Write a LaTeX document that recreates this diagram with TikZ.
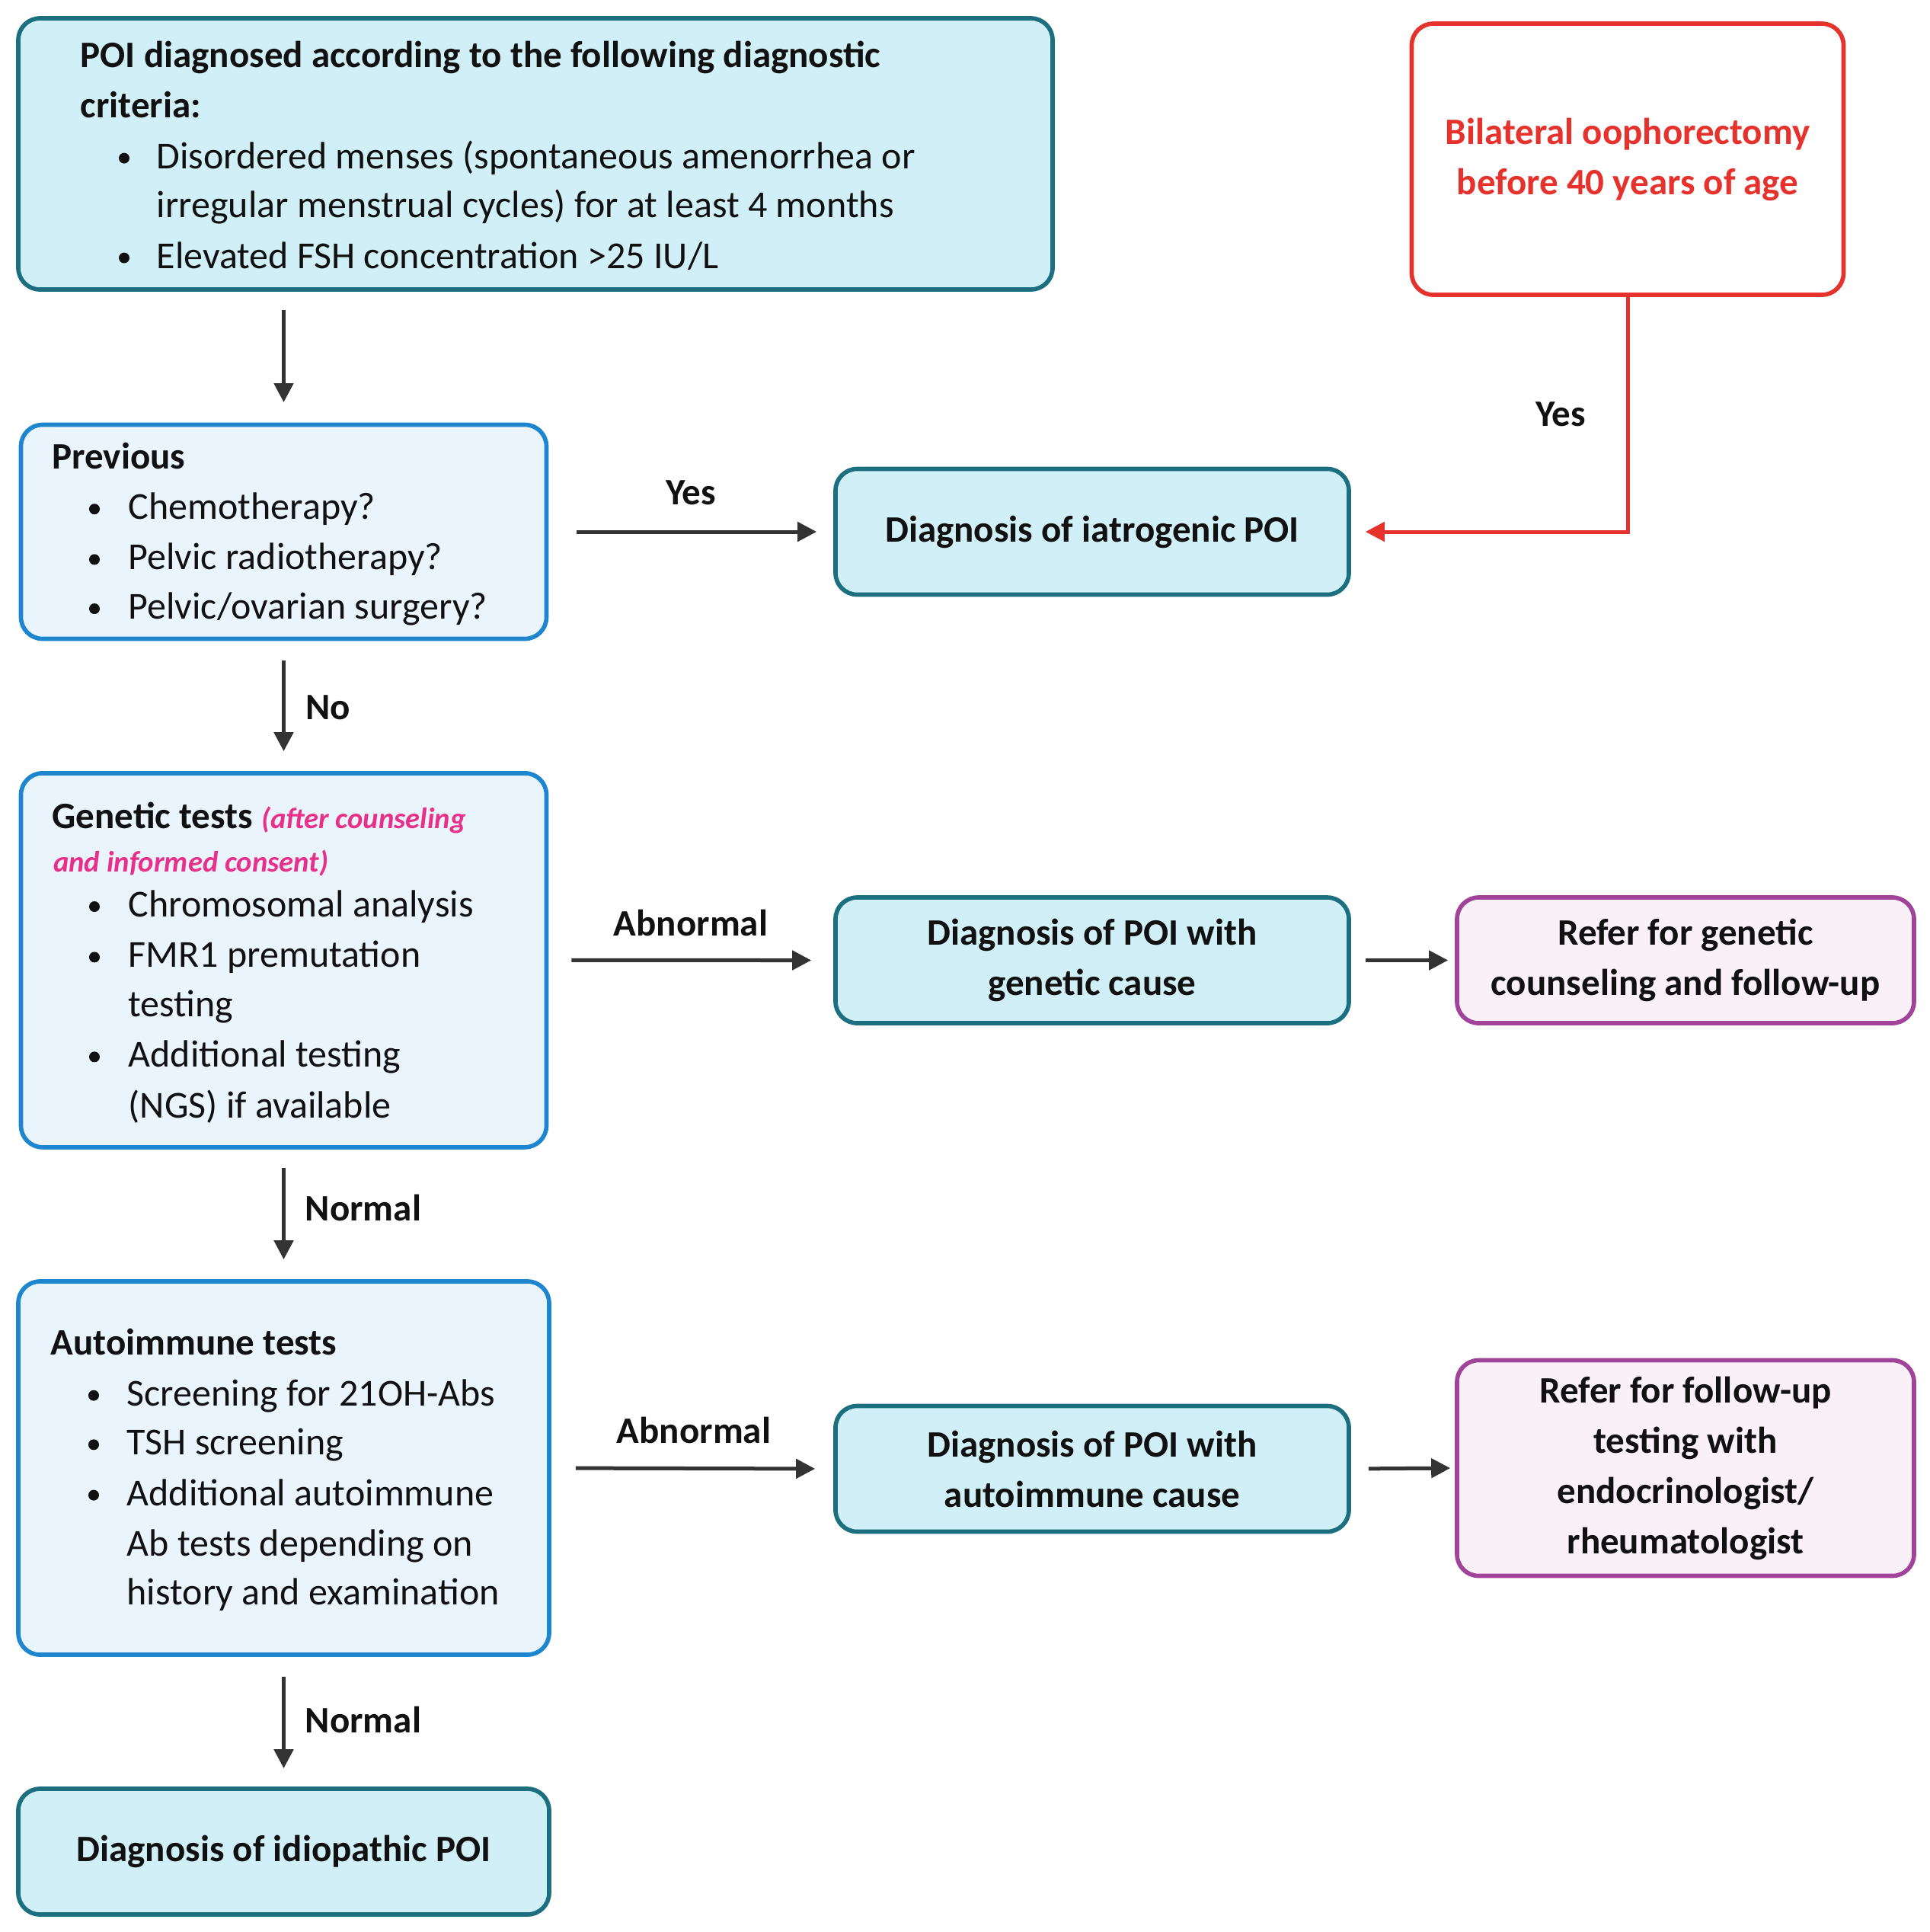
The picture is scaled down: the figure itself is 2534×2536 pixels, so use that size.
\documentclass[tikz,border=0pt]{standalone}
\usepackage{fontspec}
\setmainfont{Carlito}
\usetikzlibrary{arrows.meta}
\definecolor{cyanfill}{HTML}{D0EFF6}
\definecolor{tealline}{HTML}{1C6F7E}
\definecolor{bluefill}{HTML}{EAF4FC}
\definecolor{blueline}{HTML}{1D86CF}
\definecolor{pinkfill}{HTML}{F9F1F7}
\definecolor{purpleline}{HTML}{A04499}
\definecolor{redline}{HTML}{E5322D}
\definecolor{pinktext}{HTML}{E8308A}
\definecolor{arrowgray}{HTML}{333333}
\definecolor{ink}{HTML}{111111}
\newcommand\fsz{\fontsize{15}{19.8}\selectfont}
\newcommand\bsz{\fontsize{14.7}{19.8}\selectfont}
\newcommand\psz{\fontsize{11.6}{15}\selectfont}
\begin{document}
\begin{tikzpicture}[x=0.3pt,y=-0.3pt,
  box/.style={rectangle, rounded corners=8.5pt, line width=1.7pt, inner sep=0pt, align=center, text=ink,
    font=\bfseries\bsz},
  cbox/.style={box, draw=tealline, fill=cyanfill},
  bbox/.style={box, draw=blueline, fill=bluefill},
  pbox/.style={box, draw=purpleline, fill=pinkfill},
  rbox/.style={box, draw=redline, fill=white, text=redline},
  txt/.style={inner sep=0pt, anchor=base west, text=ink, font=\fsz},
  ttl/.style={txt, font=\bfseries\bsz},
  lbl/.style={inner sep=0pt, text=ink, font=\bfseries\bsz},
  arr/.style={draw=arrowgray, line width=1.5pt, -{Triangle[length=7.5pt,width=7.5pt]}},
  redarr/.style={draw=redline, line width=1.5pt, -{Triangle[length=7.5pt,width=7.5pt]}},
  dot/.style={fill=ink}
]
\fill[white] (0,0) rectangle (2534,2536);
\useasboundingbox (0,0) rectangle (2534,2536);

% boxes
\node[cbox, minimum width=407.4pt, minimum height=106.8pt] (top) at (703,202) {};
\node[rbox, minimum width=170.1pt, minimum height=106.8pt, yshift=-0.6pt] (red) at (2137,207)
  {Bilateral oophorectomy\\before 40 years of age};
\node[bbox, minimum width=207pt, minimum height=84.3pt] (prev) at (372.5,698) {};
\node[cbox, minimum width=202.2pt, minimum height=49.5pt] (iatro) at (1434,698) {Diagnosis of iatrogenic POI};
\node[bbox, minimum width=207pt, minimum height=147.3pt] (gen) at (372.5,1260.4) {};
\node[cbox, minimum width=202.2pt, minimum height=49.5pt] (dgen) at (1434,1260.5) {Diagnosis of POI with\\genetic cause};
\node[pbox, minimum width=180pt, minimum height=49.5pt] (rgen) at (2213,1260.5) {Refer for genetic\\counseling and follow-up};
\node[bbox, minimum width=209.1pt, minimum height=147pt] (auto) at (372.5,1927) {};
\node[cbox, minimum width=202.2pt, minimum height=49.5pt] (dauto) at (1434,1928) {Diagnosis of POI with\\autoimmune cause};
\node[pbox, minimum width=180pt, minimum height=84.9pt] (rauto) at (2213,1927)
  {Refer for follow-up\\testing with\\endocrinologist/\\rheumatologist};
\node[cbox, minimum width=209.1pt, minimum height=49.5pt] (idio) at (372.5,2430.5) {Diagnosis of idiopathic POI};

% top box text
\node[ttl] (t1) at (105,88) {POI diagnosed according to the following diagnostic};
\node[ttl] (t2) at (105,154) {criteria:};
\fill[dot] (163,207.6) circle[radius=7];
\node[txt] (t3) at (205,221) {Disordered menses (spontaneous amenorrhea or};
\node[txt] (t4) at (205,285) {irregular menstrual cycles) for at least 4 months};
\fill[dot] (163,338.5) circle[radius=7];
\node[txt] (t5) at (205,352) {Elevated FSH concentration >25 IU/L};

% previous text
\node[ttl] (p1) at (68,615) {Previous};
\fill[dot] (124,668.2) circle[radius=7];
\node[txt] (p2) at (168,681) {Chemotherapy?};
\fill[dot] (124,734.4) circle[radius=7];
\node[txt] (p3) at (168,747) {Pelvic radiotherapy?};
\fill[dot] (124,799) circle[radius=7];
\node[txt] (p4) at (168,812) {Pelvic/ovarian surgery?};

% genetic text
\node[ttl] (g1) at (68,1087) {Genetic tests {\color{pinktext}\itshape\psz (after counseling}};
\node[ttl, text=pinktext, font=\bfseries\itshape\psz] (g2) at (69.5,1144) {and informed consent)};
\fill[dot] (124,1190) circle[radius=7];
\node[txt] (g3) at (168,1203) {Chromosomal analysis};
\fill[dot] (124,1256.4) circle[radius=7];
\node[txt] (g4) at (168,1269) {FMR1 premutation};
\node[txt] (g5) at (168,1334) {testing};
\fill[dot] (124,1387.3) circle[radius=7];
\node[txt] (g6) at (168,1400) {Additional testing};
\node[txt] (g7) at (168,1467) {(NGS) if available};

% autoimmune text
\node[ttl] (a1) at (66,1778) {Autoimmune tests};
\fill[dot] (123,1831.7) circle[radius=7];
\node[txt] (a2) at (166,1845) {Screening for 21OH-Abs};
\fill[dot] (123,1896.3) circle[radius=7];
\node[txt] (a3) at (166,1909) {TSH screening};
\fill[dot] (123,1962.6) circle[radius=7];
\node[txt] (a4) at (166,1976) {Additional autoimmune};
\node[txt] (a5) at (166,2042) {Ab tests depending on};
\node[txt] (a6) at (166,2106) {history and examination};

% arrows
\draw[arr, shorten <=7.2pt, shorten >=8pt] (prev.north |- top.south) -- (prev.north);
\draw[arr, shorten <=7.8pt, shorten >=7.8pt] (prev.south) -- (gen.north);
\draw[arr, shorten <=7.2pt, shorten >=7.8pt] (gen.south) -- (auto.north);
\draw[arr, shorten <=7.8pt, shorten >=7.2pt] (auto.south) -- (idio.north);
\draw[arr, shorten <=11pt, shorten >=6.6pt] (prev.east) -- (iatro.west);
\draw[arr, shorten <=9pt, shorten >=8.7pt] (gen.east) -- (dgen.west);
\draw[arr, shorten <=9.6pt, shorten >=7.2pt] (auto.east) -- (dauto.west);
\draw[arr, shorten <=5.7pt, shorten >=2.7pt] (dgen.east) -- (rgen.west);
\draw[arr, shorten <=6.9pt, shorten >=1.8pt] (dauto.east) -- (rauto.west);
\draw[redarr, shorten >=5.7pt] (red.south) |- (iatro.east);

% labels
\node[lbl] (lyes1) at (907,647) {Yes};
\node[lbl] (lno) at (431,929) {No};
\node[lbl] (lab1) at (907,1211) {Abnormal};
\node[lbl] (lnor1) at (477,1585) {Normal};
\node[lbl] (lab2) at (911,1877) {Abnormal};
\node[lbl] (lnor2) at (477,2257) {Normal};
\node[lbl] (lyes2) at (2049,544) {Yes};
\end{tikzpicture}
\end{document}
